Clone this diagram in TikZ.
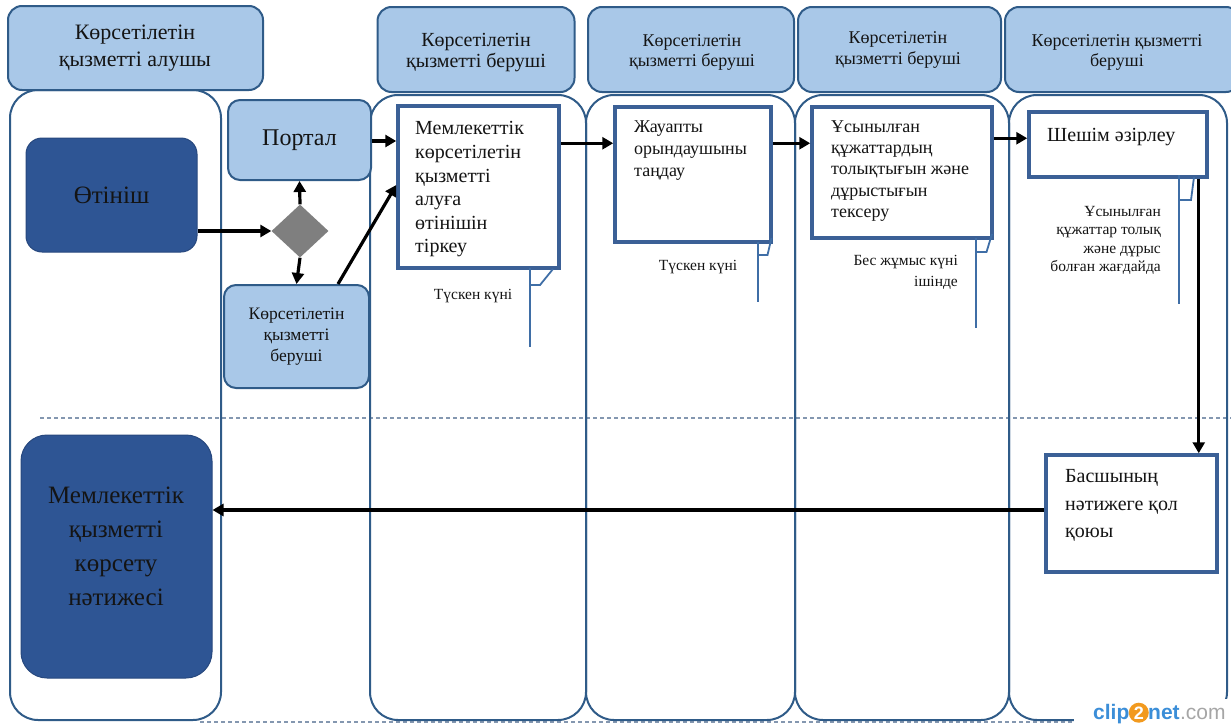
\documentclass[tikz,border=0pt]{standalone}
\usepackage{fontspec}
\setmainfont{Liberation Serif}
\newfontfamily\logofont{Liberation Sans}
\usetikzlibrary{shapes.geometric,arrows.meta}
\definecolor{hdrfill}{HTML}{A9C8E8}
\definecolor{laneblue}{HTML}{2F5B88}
\definecolor{boxblue}{HTML}{3B6096}
\definecolor{darkblue}{HTML}{2E5594}
\definecolor{callblue}{HTML}{3F6EA6}
\definecolor{dashgray}{HTML}{8497B0}
\definecolor{txt}{HTML}{141414}
\definecolor{diagray}{HTML}{7F7F7F}
\definecolor{logoblue}{HTML}{3B8ED8}
\definecolor{logoorange}{HTML}{F29A1F}
\definecolor{logogray}{HTML}{A6A6A6}
\newcommand\myfs[2]{\fontsize{#1}{#2}\selectfont}
\begin{document}
\begin{tikzpicture}[x=1pt,y=-1pt,
  lane/.style={rectangle, draw=laneblue, line width=2pt, rounded corners=28pt, inner sep=0pt},
  hdr/.style={rectangle, draw=laneblue, line width=2pt, fill=hdrfill, rounded corners=14pt, inner sep=0pt},
  lightbox/.style={rectangle, draw=laneblue, line width=2pt, fill=hdrfill, rounded corners=12pt, inner sep=0pt, align=center, text=txt},
  darkbox/.style={rectangle, draw=darkblue!85!black, line width=1pt, fill=darkblue, rounded corners=16pt, inner sep=0pt, align=center, text=txt},
  procbox/.style={rectangle, draw=boxblue, line width=3.5pt, fill=white, inner sep=0pt},
  txtblk/.style={inner sep=0pt, align=left, text=txt},
  hdrtxt/.style={inner sep=0pt, align=center, text=txt, anchor=north},
  arr/.style={draw=black, line width=3.2pt, -{Triangle[length=11pt,width=12pt]}},
  callout/.style={draw=callblue, line width=1.8pt},
  dashln/.style={draw=dashgray, line width=1.2pt, dash pattern=on 4pt off 3pt}
]
\useasboundingbox (0,0) rectangle (1231,723);

% dashed separators
\coordinate (dl1) at (40,418);
\coordinate (dl2) at (1231,418);
\coordinate (dl3) at (200,722);
\coordinate (dl4) at (1075,722);
\draw[dashln] (dl1) -- (dl2);
\draw[dashln] (dl3) -- (dl4);

% lanes
\node[lane, minimum width=211pt, minimum height=630pt] (laneA) at (115.5,405) {};
\node[lane, minimum width=216pt, minimum height=625pt] (laneB) at (478,407.5) {};
\node[lane, minimum width=209pt, minimum height=625pt] (laneC) at (690.5,407.5) {};
\node[lane, minimum width=214pt, minimum height=625pt] (laneD) at (902,407.5) {};
\node[lane, minimum width=218pt, minimum height=625pt] (laneE) at (1118,407.5) {};

% headers
\node[hdr, minimum width=255pt, minimum height=84pt] (h1) at (135.5,48) {};
\node[hdr, minimum width=197pt, minimum height=85pt] (h2) at (476,49.5) {};
\node[hdr, minimum width=206pt, minimum height=85pt] (h3) at (691,49.5) {};
\node[hdr, minimum width=203pt, minimum height=85pt] (h4) at (899.5,49.5) {};
\node[hdr, minimum width=235pt, minimum height=85pt] (h5) at (1122.5,49.5) {};
\node[hdrtxt, font=\myfs{22}{27}] (h1t) at (135,25) {Көрсетілетін\\қызметті алушы};
\node[hdrtxt, font=\myfs{20}{21.5}] (h2t) at (476,33) {Көрсетілетін\\қызметті беруші};
\node[hdrtxt, font=\myfs{18}{20.5}] (h3t) at (692,34) {Көрсетілетін\\қызметті беруші};
\node[hdrtxt, font=\myfs{18}{21.5}] (h4t) at (898,31) {Көрсетілетін\\қызметті беруші};
\node[hdrtxt, font=\myfs{18}{20.5}] (h5t) at (1117,34) {Көрсетілетін қызметті\\беруші};

% left column
\node[darkbox, minimum width=171pt, minimum height=114pt, font=\myfs{25}{30}] (ot) at (111.5,195) {Өтініш};
\node[diamond, fill=diagray, minimum width=57pt, minimum height=53pt, inner sep=0pt] (dia) at (300,231) {};
\node[lightbox, minimum width=143pt, minimum height=80pt, font=\myfs{24}{28}] (portal) at (299.5,140) {Портал};
\node[lightbox, minimum width=145pt, minimum height=103pt, font=\myfs{17.5}{21}] (small) at (296.5,336.5) {Көрсетілетін\\қызметті\\беруші};
\node[darkbox, rounded corners=26pt, minimum width=191pt, minimum height=243pt] (res) at (116.5,556.5) {};
\node[inner sep=0pt, align=center, text=txt, font=\myfs{25}{34}] (rest) at (116,546.5) {Мемлекеттік\\қызметті\\көрсету\\нәтижесі};

% process boxes
\node[procbox, minimum width=161pt, minimum height=162pt] (b1) at (478.5,187) {};
\node[procbox, minimum width=156pt, minimum height=135pt] (b2) at (693,174.5) {};
\node[procbox, minimum width=180pt, minimum height=131pt] (b3) at (902,172.5) {};
\node[procbox, minimum width=178pt, minimum height=65pt] (b4) at (1118,144.5) {};
\node[procbox, minimum width=171pt, minimum height=117pt] (b5) at (1131.5,513.5) {};

\node[txtblk, anchor=north west, font=\myfs{20}{23.6}] (b1t) at (415,121.4) {Мемлекеттік\\көрсетілетін\\қызметті\\алуға\\өтінішін\\тіркеу};
\node[txtblk, anchor=north west, font=\myfs{18}{22}] (b2t) at (634,120.3) {Жауапты\\орындаушыны\\таңдау};
\node[txtblk, anchor=north west, font=\myfs{18}{21.3}] (b3t) at (831,120.3) {Ұсынылған\\құжаттардың\\толықтығын және\\дұрыстығын\\тексеру};
\node[txtblk, anchor=north west, font=\myfs{20}{24}] (b4t) at (1047,128.4) {Шешім әзірлеу};
\node[txtblk, anchor=north west, font=\myfs{20}{27.5}] (b5t) at (1065,469.4) {Басшының\\нәтижеге қол\\қоюы};

% callouts
\draw[callout] (530,268) -- (530,347);
\draw[callout] (553,269) -- (540,285) -- (530,285);
\draw[callout] (758,242) -- (758,302);
\draw[callout] (771.5,238) -- (767.5,255) -- (758,255);
\draw[callout] (976,238) -- (976,328);
\draw[callout] (992,234) -- (986.5,252) -- (976,252);
\draw[callout] (1179,175) -- (1179,304);
\draw[callout] (1194,177) -- (1191,200) -- (1179,200);

% notes
\node[inner sep=0pt, text=txt, anchor=base, font=\myfs{15.5}{18}] (n1) at (473,299.6) {Түскен күні};
\node[inner sep=0pt, text=txt, anchor=base, font=\myfs{15.5}{18}] (n2) at (698,270.6) {Түскен күні};
\node[inner sep=0pt, text=txt, align=right, anchor=north east, font=\myfs{15.5}{21}] (n3) at (958,255.3) {Бес жұмыс күні\\ішінде};
\node[inner sep=0pt, text=txt, align=right, anchor=north east, font=\myfs{15.5}{18.3}] (n4) at (1161,206.3) {Ұсынылған\\құжаттар толық\\және дұрыс\\болған жағдайда};

% arrows
\draw[arr] (ot.east |- dia.west) -- (dia.west);
\draw[arr] (dia.north) -- (portal.south);
\draw[arr] (dia.south) -- (small.north);
\draw[arr] ([xshift=41.5pt]small.north) -- ([yshift=2pt]b1.west);
\draw[arr] ([yshift=-1pt]portal.east) -- ([yshift=-1pt]portal.east -| b1.west);
\draw[arr] ([yshift=-39pt]b1.north east) -- ([yshift=-38pt]b2.north west);
\draw[arr] ([yshift=-38pt]b2.north east) -- ([yshift=-38pt]b3.north west);
\draw[arr] ([yshift=-33pt]b3.north east) -- ([yshift=-28pt]b4.north west);
\draw[arr] ([xshift=-10pt]b4.south east) -- ([xshift=-20pt]b5.north east);
\draw[arr] ([yshift=3.5pt]b5.west) -- ([yshift=3.5pt]b5.west -| res.east);

% watermark logo
\node[fill=white, minimum width=158pt, minimum height=25pt, inner sep=0pt] (lgbg) at (1153,711) {};
\node[inner sep=0pt, anchor=base west, text=logoblue, font=\logofont\bfseries\myfs{21}{21}] (lg1) at (1093,719) {clip};
\node[circle, fill=logoorange, inner sep=0pt, minimum size=20pt, text=white, font=\logofont\bfseries\myfs{18}{18}, anchor=base west] (lg2) at ([xshift=-1pt]lg1.base east) {2};
\node[inner sep=0pt, anchor=base west, text=logoblue, font=\logofont\bfseries\myfs{21}{21}] (lg3) at ([xshift=-1pt]lg2.base east) {net};
\node[inner sep=0pt, anchor=base west, text=logogray, font=\logofont\myfs{21}{21}] (lg4) at (lg3.base east) {.com};
\end{tikzpicture}
\end{document}
